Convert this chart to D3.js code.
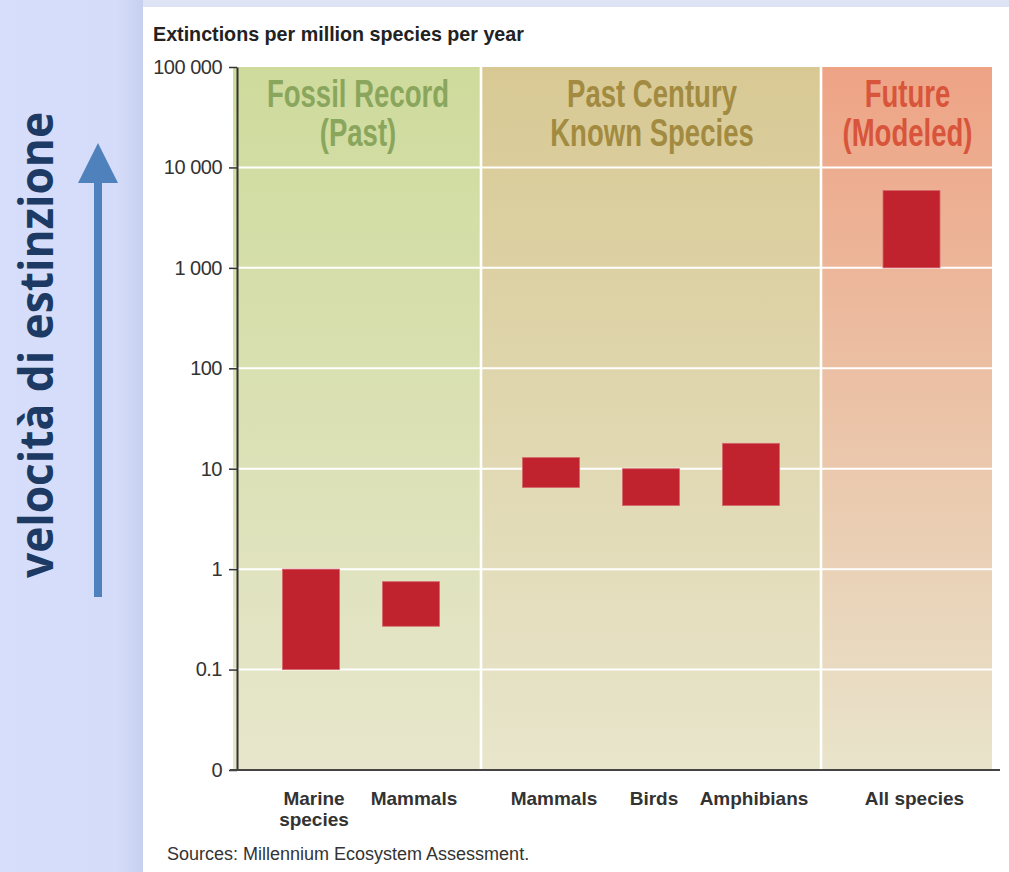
<!DOCTYPE html>
<html>
<head>
<meta charset="utf-8">
<script src="https://cdn.jsdelivr.net/npm/d3@7"></script>
<style>
  body { margin: 0; background: #fff; }
  svg { display: block; }
</style>
</head>
<body>
<div id="chart"></div>
<script>
// data
const periods = [["Fossil Record", "(Past)"], ["Past Century", "Known Species"], ["Future", "(Modeled)"]];
const categories = [["Marine", "species"], ["Mammals"], ["Mammals"], ["Birds"], ["Amphibians"], ["All species"]];
const categoryPeriod = [0, 0, 1, 1, 1, 2];
const lowValues = [0.1, 0.27, 6.5, 4.3, 4.3, 1000];
const highValues = [1, 0.75, 12.9, 10, 17.9, 5900];
const yTicks = [0.01, 0.1, 1, 10, 100, 1000, 10000, 100000];
const yTickLabels = ["0", "0.1", "1", "10", "100", "1 000", "10 000", "100 000"];

const width = 1009, height = 872;
const plotLeft = 237, plotTop = 67, plotBottom = 770;
const panelEdges = [233, 481, 821, 992];   // x edges of the three coloured panels
const bandShift = [4, 0, 5];
const panelColors = [
  { top: "#cedb9c", bottom: "#e7e6cc", text: "#8aa65c" },
  { top: "#d8c994", bottom: "#e8e5cb", text: "#a28b40" },
  { top: "#eea385", bottom: "#e8e4cb", text: "#d8553b" }
];

const svg = d3.select('#chart')
  .append('svg')
    .attr('width', width)
    .attr('height', height);

const defs = svg.append('defs');

// slide background on the left
const shade = defs.append('linearGradient').attr('id', 'side-shade')
  .attr('x1', 0).attr('x2', 1).attr('y1', 0).attr('y2', 0);
shade.append('stop').attr('offset', '0%').attr('stop-color', '#d6defb');
shade.append('stop').attr('offset', '82%').attr('stop-color', '#d4dcf9');
shade.append('stop').attr('offset', '100%').attr('stop-color', '#c8d0f0');

svg.append('rect').attr('x', 0).attr('y', 0).attr('width', width).attr('height', 7).attr('fill', '#dee3f5');
svg.append('rect').attr('x', 0).attr('y', 0).attr('width', 143).attr('height', height).attr('fill', 'url(#side-shade)');

// arrow
svg.append('line')
  .attr('x1', 98).attr('x2', 98).attr('y1', 597).attr('y2', 178)
  .attr('stroke', '#4f81bd').attr('stroke-width', 8);
svg.append('path')
  .attr('d', 'M78,183 L118,183 L98,143 Z')
  .attr('fill', '#4f81bd');

const sideLabel = svg.append('text')
  .attr('transform', 'translate(53,345) rotate(-90)')
  .attr('text-anchor', 'middle')
  .style('font-family', '"Open Sans", sans-serif')
  .style('font-weight', 'bold')
  .style('font-size', '46px')
  .attr('fill', '#1c3a63')
  .text('velocità di estinzione');
sideLabel.attr('textLength', 466).attr('lengthAdjust', 'spacingAndGlyphs');

// scales
const y = d3.scaleLog()
  .domain([yTicks[0], yTicks[yTicks.length - 1]])
  .range([plotBottom, plotTop]);

const bands = periods.map((p, j) => {
  const ids = d3.range(categories.length).filter(i => categoryPeriod[i] === j);
  const centre = (panelEdges[j] + panelEdges[j + 1]) / 2 + bandShift[j];
  return d3.scaleBand()
    .domain(ids)
    .range([centre - ids.length * 50, centre + ids.length * 50])
    .paddingInner(0.43)
    .paddingOuter(0.215);
});
const xCenter = i => { const b = bands[categoryPeriod[i]]; return b(i) + b.bandwidth() / 2; };

// panel gradients
panelColors.forEach((c, j) => {
  const g = defs.append('linearGradient').attr('id', 'panel-' + j)
    .attr('gradientUnits', 'userSpaceOnUse')
    .attr('x1', 0).attr('x2', 0).attr('y1', plotTop).attr('y2', plotBottom);
  g.append('stop').attr('offset', '0%').attr('stop-color', c.top);
  g.append('stop').attr('offset', '100%').attr('stop-color', c.bottom);
});

svg.append('g')
  .selectAll('rect')
  .data(periods)
  .enter()
  .append('rect')
    .attr('x', (d, j) => panelEdges[j] + (j > 0 ? 1.3 : 0))
    .attr('width', (d, j) => panelEdges[j + 1] - panelEdges[j] - (j > 0 ? 1.3 : 0) - (j < 2 ? 1.3 : 0))
    .attr('y', plotTop)
    .attr('height', plotBottom - plotTop)
    .attr('fill', (d, j) => 'url(#panel-' + j + ')');

// white grid lines
svg.append('g')
  .selectAll('line')
  .data(yTicks.slice(1, -1))
  .enter()
  .append('line')
    .attr('x1', panelEdges[0]).attr('x2', panelEdges[3])
    .attr('y1', d => y(d)).attr('y2', d => y(d))
    .attr('stroke', '#fff').attr('stroke-width', 2);

// panel titles, one text per line
periods.forEach((lines, j) => {
  lines.forEach((line, k) => {
    const t = svg.append('text')
      .attr('text-anchor', 'middle')
      .attr('x', (panelEdges[j] + panelEdges[j + 1]) / 2 + 1)
      .attr('y', 107 + k * 39)
      .style('font-family', '"Liberation Sans", Arial, sans-serif')
      .style('font-weight', 'bold')
      .style('font-size', '38px')
      .attr('fill', panelColors[j].text)
      .text(line);
    t.attr('textLength', t.node().getComputedTextLength() * 0.725)
      .attr('lengthAdjust', 'spacingAndGlyphs');
  });
});

// range bars
svg.append('g')
  .selectAll('rect')
  .data(categories)
  .enter()
  .append('rect')
    .attr('x', (d, i) => bands[categoryPeriod[i]](i))
    .attr('width', (d, i) => bands[categoryPeriod[i]].bandwidth())
    .attr('y', (d, i) => y(highValues[i]))
    .attr('height', (d, i) => y(lowValues[i]) - y(highValues[i]))
    .attr('fill', '#c0222e')
    .attr('stroke', '#d5676c')
    .attr('stroke-width', 0.8);

// y axis
const yAxis = svg.append('g')
  .attr('transform', 'translate(' + plotLeft + ',0)')
  .call(d3.axisLeft(y)
    .tickValues(yTicks)
    .tickFormat((d, i) => yTickLabels[i])
    .tickSize(8)
    .tickSizeOuter(0)
    .tickPadding(7));
yAxis.select('.domain').attr('stroke', '#333').attr('stroke-width', 2);
yAxis.selectAll('.tick line').attr('stroke', '#333').attr('stroke-width', 1.5);
yAxis.selectAll('.tick text')
  .attr('fill', '#333')
  .style('font-family', '"Liberation Sans", Arial, sans-serif')
  .style('font-size', '20px')
  .style('letter-spacing', '-0.5px');

// baseline
svg.append('line')
  .attr('x1', 230).attr('x2', 1000)
  .attr('y1', y(yTicks[0])).attr('y2', y(yTicks[0]))
  .attr('stroke', '#444').attr('stroke-width', 2);

// category labels
const catLabels = svg.append('g')
  .selectAll('text')
  .data(categories)
  .enter()
  .append('text')
    .attr('text-anchor', 'middle')
    .attr('fill', '#333')
    .style('font-family', '"Liberation Sans", Arial, sans-serif')
    .style('font-weight', 'bold')
    .style('font-size', '19px');
catLabels.each(function(lines, i) {
  lines.forEach((line, k) => {
    d3.select(this).append('tspan')
      .attr('x', xCenter(i) + 3)
      .attr('y', 805 + k * 21)
      .text(line);
  });
});

// title and source
svg.append('text')
  .attr('x', 153).attr('y', 41)
  .attr('fill', '#222')
  .style('font-family', '"Liberation Sans", Arial, sans-serif')
  .style('font-weight', 'bold')
  .style('font-size', '19.7px')
  .text('Extinctions per million species per year');

svg.append('text')
  .attr('x', 167).attr('y', 860)
  .attr('fill', '#333')
  .style('font-family', '"Liberation Sans", Arial, sans-serif')
  .style('font-size', '18px')
  .text('Sources: Millennium Ecosystem Assessment.');
</script>
</body>
</html>
